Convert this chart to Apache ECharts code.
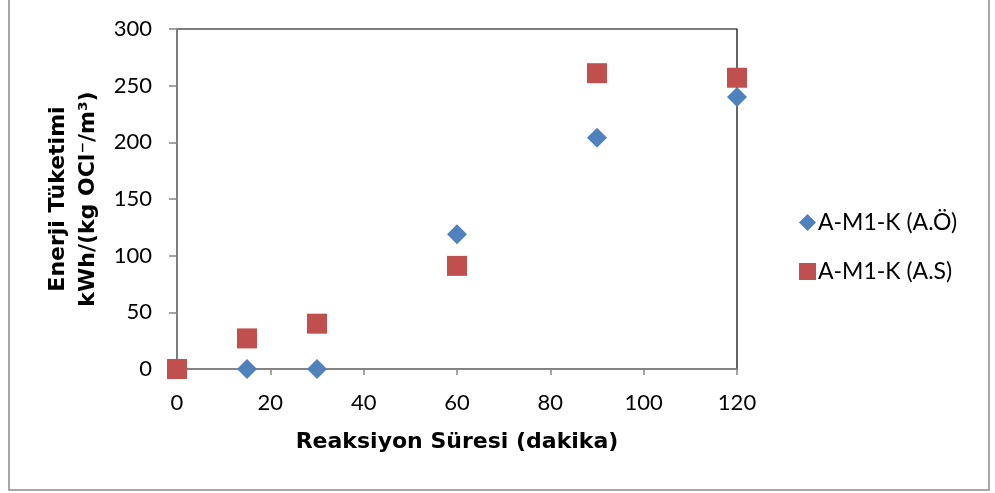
<!DOCTYPE html>
<html><head><meta charset="utf-8">
<script src="https://cdn.jsdelivr.net/npm/echarts@6/dist/echarts.min.js"></script>
<style>html,body{margin:0;padding:0;background:#fff}#c{width:995px;height:493px}</style>
</head><body><div id="c"></div>
<script>
const xTimes = [0, 15, 30, 60, 90, 120];
const seriesAO = [0, 0, 0, 119, 204, 240];
const seriesAS = [0, 27, 40, 91, 261, 257];
const seriesNames = ['A-M1-K (A.Ö)', 'A-M1-K (A.S)'];
const xTitle = 'Reaksiyon Süresi (dakika)';
const yTitle = 'Enerji Tüketimi\nkWh/(kg OCl⁻/m³)';

const chart = echarts.init(document.getElementById('c'), null, {renderer: 'canvas'});
const pts = (ys) => xTimes.map((x, i) => [x, ys[i]]);
const tickFont = {fontFamily: 'Lato', fontSize: 22, color: '#000'};
const titleFont = {fontFamily: 'DejaVu Sans', fontWeight: 'bold', fontSize: 22, color: '#000'};
chart.setOption({
  animation: false,
  backgroundColor: '#fff',
  graphic: [{type: 'rect', shape: {x: 9, y: -5, width: 980, height: 495},
    style: {fill: 'none', stroke: '#8a8a8a', lineWidth: 1.5}, silent: true}],
  grid: {left: 177, top: 29, width: 560, height: 340, show: true, borderColor: '#000', borderWidth: 1.2, backgroundColor: 'transparent'},
  legend: {
    orient: 'vertical', left: 794, top: 206, itemWidth: 17, itemHeight: 17, itemGap: 26,
    textStyle: {fontFamily: 'Lato', fontSize: 23, color: '#000', padding: [0, 0, 0, -3]},
    data: [{name: seriesNames[0], icon: 'diamond'}, {name: seriesNames[1], icon: 'rect'}]
  },
  xAxis: {
    type: 'value', min: 0, max: 120, interval: 20,
    name: xTitle, nameLocation: 'middle', nameGap: 62,
    nameTextStyle: titleFont,
    axisLine: {onZero: false, lineStyle: {color: '#868686', width: 1.5}},
    axisTick: {show: true, length: 6, lineStyle: {color: '#868686', width: 1.5}},
    axisLabel: Object.assign({margin: 23}, tickFont),
    splitLine: {show: false}
  },
  yAxis: {
    type: 'value', min: 0, max: 300, interval: 50,
    name: yTitle, nameLocation: 'middle', nameGap: 74, nameRotate: 90,
    nameTextStyle: Object.assign({lineHeight: 30}, titleFont),
    axisLine: {show: true, onZero: false, lineStyle: {color: '#868686', width: 1.5}},
    axisTick: {show: true, length: 8, lineStyle: {color: '#868686', width: 1.5}},
    axisLabel: Object.assign({margin: 25}, tickFont),
    splitLine: {show: false}
  },
  series: [
    {name: seriesNames[0], type: 'scatter', symbol: 'diamond', symbolSize: 20,
     itemStyle: {color: '#4F81BD', opacity: 1}, data: pts(seriesAO), z: 3},
    {name: seriesNames[1], type: 'scatter', symbol: 'rect', symbolSize: 20,
     itemStyle: {color: '#C0504D', opacity: 1}, data: pts(seriesAS), z: 4}
  ]
});
</script></body></html>
